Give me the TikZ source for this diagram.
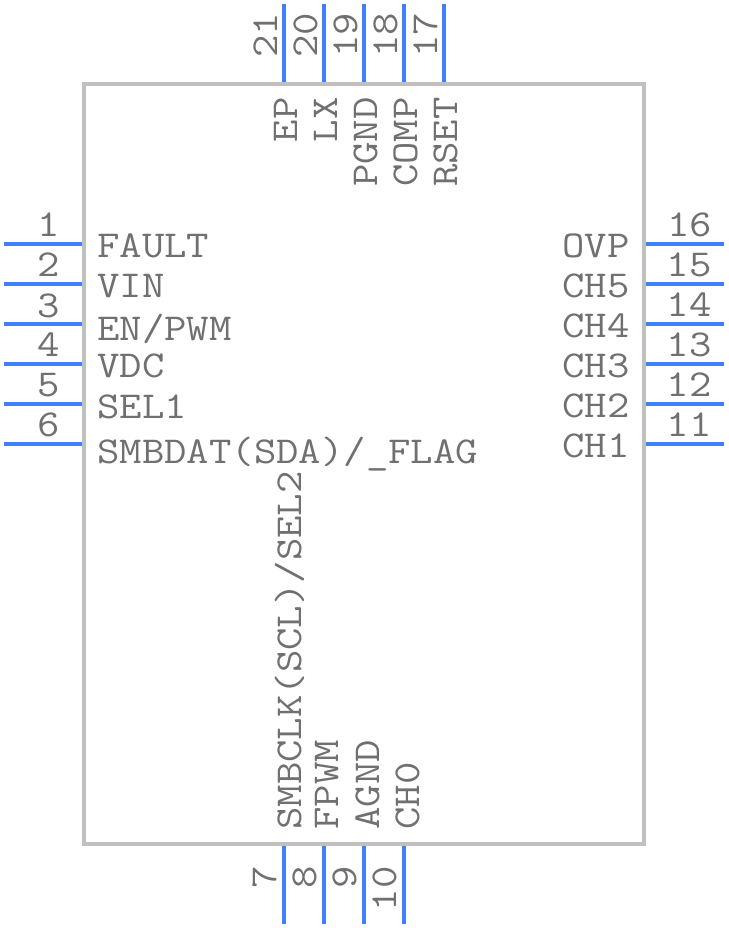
\documentclass[tikz,border=0pt]{standalone}
\usepackage{fontspec}
\setmainfont[FakeStretch=1.145]{Latin Modern Mono}
\definecolor{pinblue}{RGB}{64,128,255}
\definecolor{bodygrey}{RGB}{192,192,192}
\definecolor{labelgrey}{RGB}{112,112,112}
\tikzset{
  pinline/.style={draw=pinblue, line width=4pt},
  bodyline/.style={draw=bodygrey, line width=4pt},
  pintext/.style={text=labelgrey, inner sep=0pt, font=\fontsize{38}{38}\selectfont},
}
\begin{document}
\begin{tikzpicture}[x=1pt,y=-1pt]
\useasboundingbox (0,0) rectangle (728,928);

\draw [bodyline] (84,84) rectangle (644,844);

% left pins
\foreach \num/\ypos/\nbase/\tbase/\name in {1/244/236/257/FAULT,2/284/276/297/VIN,3/324/317/340/EN{/}PWM,4/364/356/377/VDC,5/404/396/418/SEL1,6/444/436/463/SMBDAT(SDA){/}\_FLAG} {
  \coordinate (l\num) at (82,\ypos);
  \coordinate (lo\num) at (4,\ypos);
  \draw [pinline] (lo\num) -- (l\num);
  \node [pintext, anchor=base east] (ln\num) at (60,\nbase) {\num};
  \node [pintext, anchor=base west] (lt\num) at (97,\tbase) {\name};
}

% right pins
\foreach \num/\ypos/\name in {11/444/CH1,12/404/CH2,13/364/CH3,14/324/CH4,15/284/CH5,16/244/OVP} {
  \coordinate (r\num) at (646,\ypos);
  \coordinate (ro\num) at (724,\ypos);
  \draw [pinline] (r\num) -- (ro\num);
  \node [pintext, anchor=base east] (rn\num) at (712,\ypos-8) {\num};
  \node [pintext, anchor=base east] (rt\num) at (630,\ypos+13) {\name};
}

% bottom pins
\foreach \num/\xpos/\tpos/\name in {7/284/301/SMBCLK(SCL){/}SEL2,8/324/338/FPWM,9/364/379/AGND,10/404/419/CH0} {
  \coordinate (b\num) at (\xpos,846);
  \coordinate (bo\num) at (\xpos,924);
  \draw [pinline] (b\num) -- (bo\num);
  \node [pintext, rotate=90, anchor=base east] (bn\num) at (\xpos-8,866) {\num};
  \node [pintext, rotate=90, anchor=base west] (bt\num) at (\tpos,830) {\name};
}

% top pins
\foreach \num/\xpos/\name in {21/284/EP,20/324/LX,19/364/PGND,18/404/COMP,17/444/RSET} {
  \coordinate (t\num) at (\xpos,82);
  \coordinate (to\num) at (\xpos,4);
  \draw [pinline] (t\num) -- (to\num);
  \node [pintext, rotate=90, anchor=base west] (tn\num) at (\xpos-7,58) {\num};
  \node [pintext, rotate=90, anchor=base east] (tt\num) at (\xpos+13,97) {\name};
}
\end{tikzpicture}
\end{document}
